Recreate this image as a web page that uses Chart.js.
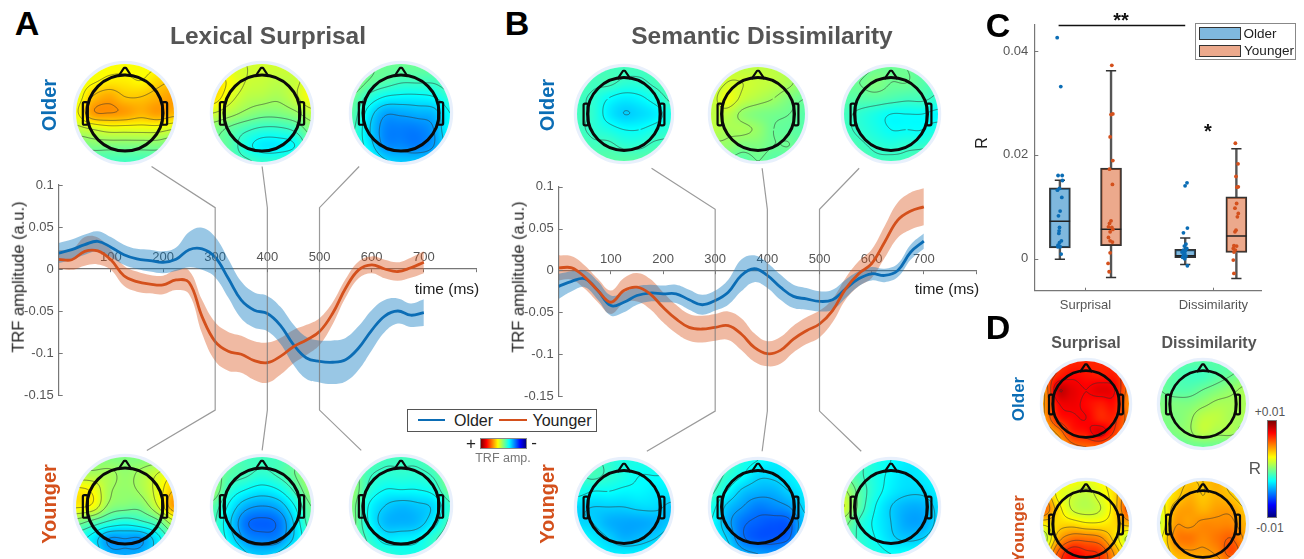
<!DOCTYPE html>
<html>
<head>
<meta charset="utf-8">
<title>TRF</title>
<script src="https://cdn.jsdelivr.net/npm/chart.js@4"></script>
<style>
    html, body { margin: 0; padding: 0; background: #fff; width: 1304px; height: 559px; overflow: hidden; }
    body { position: relative; font-family: 'Liberation Sans', Arial, sans-serif; }
    canvas { position: absolute; }
    .txt { position: absolute; white-space: nowrap; transform: translate(-50%, -50%); line-height: 1; }
    .rot { transform: translate(-50%, -50%) rotate(-90deg); }
    .caja { position: absolute; box-sizing: border-box; }
</style>
</head>
<body>
<script>
// ===================================== Datos ==================================
const tiempos = [0, 25, 50, 75, 100, 125, 150, 175, 200, 225, 250, 275, 300, 325, 350, 375, 400, 425, 450, 475, 500, 525, 550, 575, 600, 625, 650, 675, 700];

const surprisalOlder = [0.019, 0.023, 0.029, 0.033, 0.026, 0.017, 0.012, 0.010, 0.008, 0.0115, 0.023, 0.024, 0.014, -0.011, -0.037, -0.049, -0.053, -0.067, -0.090, -0.106, -0.110, -0.111, -0.108, -0.094, -0.073, -0.056, -0.050, -0.055, -0.052];
const surprisalOlderSem = [0.012, 0.012, 0.012, 0.012, 0.012, 0.012, 0.012, 0.013, 0.013, 0.014, 0.021, 0.025, 0.024, 0.023, 0.022, 0.021, 0.021, 0.022, 0.024, 0.025, 0.025, 0.026, 0.026, 0.026, 0.024, 0.019, 0.015, 0.014, 0.016];
const surprisalYounger = [0.0115, 0.011, 0.021, 0.0215, 0.011, -0.008, -0.015, -0.018, -0.019, -0.013, -0.016, -0.057, -0.0865, -0.098, -0.1015, -0.109, -0.1115, -0.104, -0.0925, -0.0845, -0.0745, -0.053, -0.023, -0.001, 0.005, 0, -0.003, 0.0015, 0.008];
const surprisalYoungerSem = [0.011, 0.012, 0.017, 0.016, 0.012, 0.012, 0.012, 0.011, 0.011, 0.012, 0.014, 0.020, 0.023, 0.023, 0.022, 0.023, 0.024, 0.022, 0.020, 0.018, 0.016, 0.013, 0.011, 0.010, 0.010, 0.011, 0.011, 0.012, 0.013];

const disimilOlder = [-0.019, -0.013, -0.010, -0.024, -0.042, -0.038, -0.030, -0.027, -0.028, -0.028, -0.035, -0.041, -0.036, -0.026, -0.006, 0.002, -0.006, -0.020, -0.031, -0.034, -0.037, -0.035, -0.022, -0.010, -0.004, -0.006, 0, 0.022, 0.035];
const disimilOlderSem = [0.015, 0.012, 0.010, 0.011, 0.012, 0.012, 0.011, 0.010, 0.010, 0.011, 0.012, 0.012, 0.012, 0.015, 0.019, 0.016, 0.015, 0.015, 0.014, 0.013, 0.012, 0.012, 0.011, 0.009, 0.008, 0.008, 0.008, 0.009, 0.009];
const disimilYounger = [0.003, 0.003, -0.008, -0.024, -0.038, -0.024, -0.020, -0.028, -0.044, -0.058, -0.068, -0.070, -0.068, -0.066, -0.076, -0.092, -0.0995, -0.0955, -0.082, -0.072, -0.064, -0.048, -0.022, -0.004, 0.008, 0.034, 0.060, 0.071, 0.076];
const disimilYoungerSem = [0.015, 0.014, 0.014, 0.014, 0.014, 0.015, 0.017, 0.018, 0.018, 0.017, 0.016, 0.016, 0.016, 0.017, 0.019, 0.017, 0.015, 0.016, 0.016, 0.016, 0.016, 0.014, 0.013, 0.015, 0.017, 0.019, 0.021, 0.022, 0.022];

const ticksTrf = [0.1, 0.05, 0, -0.05, -0.1, -0.15];

// lineas grises que unen cada mapa con su latencia
const conector300x = [178, 300, 300, 169];
const conector400x = [390, 400, 400, 390];
const conector500x = [576, 500, 500, 580];
const conectorY = [0.122, 0.073, -0.168, -0.216];

// boxplots (posicion en el eje x, cuartiles, bigotes)
const nombresBox = ['Surprisal', 'Dissimilarity'];
const ticksBoxX = [1, 2];
const ticksBoxY = [0, 0.02, 0.04];
const boxOlderX = [0.80, 1.78];
const boxOlderQ1 = [0.0021, 0.0002];
const boxOlderMed = [0.0072, 0.0006];
const boxOlderQ3 = [0.01365, 0.0018];
const boxOlderMin = [-0.0001, -0.0011];
const boxOlderMax = [0.0151, 0.0040];
const boxYoungerX = [1.20, 2.18];
const boxYoungerQ1 = [0.0025, 0.0012];
const boxYoungerMed = [0.0057, 0.0044];
const boxYoungerQ3 = [0.01745, 0.0119];
const boxYoungerMin = [-0.0036, -0.0038];
const boxYoungerMax = [0.0362, 0.0212];

const puntosOlderX = [0.779, 0.807, 0.786, 0.818, 0.820, 0.781, 0.797, 0.815, 0.802, 0.789, 0.797, 0.794, 0.792, 0.812, 0.797, 0.786, 0.802, 0.784, 0.810, 1.794, 1.779, 1.797, 1.766, 1.786, 1.773, 1.792, 1.766, 1.781, 1.755, 1.776, 1.766, 1.786, 1.760, 1.776, 1.797];
const puntosOlderY = [0.04256, 0.03314, 0.01603, 0.01603, 0.01506, 0.0132, 0.01353, 0.0118, 0.00917, 0.00827, 0.00603, 0.00538, 0.00487, 0.00346, 0.00308, 0.00263, 0.00231, 0.00231, 0.0009, 0.01462, 0.01404, 0.0059, 0.005, 0.00282, 0.00244, 0.00199, 0.00167, 0.00154, 0.00128, 0.00103, 0.00071, 0.00051, 0.00026, 0, -0.00135];
const puntosYoungerX = [1.206, 1.214, 1.200, 1.193, 1.214, 1.188, 1.211, 1.200, 1.188, 1.180, 1.206, 1.214, 1.193, 1.180, 1.193, 1.211, 1.193, 1.177, 1.185, 2.172, 2.193, 2.177, 2.195, 2.185, 2.182, 2.169, 2.195, 2.188, 2.177, 2.169, 2.161, 2.182, 2.156, 2.172, 2.161, 2.156, 2.161];
const puntosYoungerY = [0.03724, 0.02788, 0.02776, 0.02346, 0.01891, 0.01724, 0.0143, 0.00731, 0.0068, 0.00615, 0.00603, 0.00564, 0.00519, 0.0041, 0.00346, 0.00321, 0.00115, -0.0009, -0.0025, 0.02224, 0.01827, 0.01583, 0.01385, 0.01378, 0.01064, 0.00974, 0.00872, 0.00808, 0.00551, 0.00519, 0.0025, 0.00244, 0.00199, 0.00167, 0.00128, -0.00026, -0.00282];

const corchete2x = [0.79, 1.78];
const corchete2y = [0.0449, 0.0449];

// mapas: 7 filas de arriba (frente) a abajo, valor en la escala de color 0-100
const mapaSurprisalOlder1 = [[62,62,62,62,62,62,62],[60,62,64,64,63,66,68],[60,68,71,68,68,70,72],[62,72,73,72,70,72,70],[56,58,60,60,60,60,58],[48,50,50,50,50,50,48],[44,44,44,44,44,44,44]];
const mapaSurprisalOlder2 = [[58,58,58,58,58,58,58],[66,62,58,57,56,57,60],[66,60,56,55,54,57,62],[58,55,52,50,50,52,56],[50,47,44,42,42,44,50],[48,46,40,36,36,38,46],[48,46,44,42,42,44,46]];
const mapaSurprisalOlder3 = [[48,48,48,48,48,48,48],[52,48,46,44,44,44,46],[48,42,38,37,37,38,42],[46,36,29,29,30,31,38],[44,34,26,25,25,28,38],[42,36,27,26,25,28,36],[42,40,34,32,32,33,40]];
const mapaSurprisalYounger1 = [[50,50,50,50,50,50,50],[54,54,54,52,54,58,62],[64,62,54,52,54,60,68],[64,62,52,50,50,58,72],[50,46,42,40,42,46,56],[40,36,28,28,28,36,46],[42,38,30,29,30,36,44]];
const mapaSurprisalYounger2 = [[46,46,44,44,44,46,46],[50,46,44,42,44,48,54],[52,42,38,36,38,44,52],[46,37,30,28,30,38,48],[44,34,24,22,24,34,46],[44,36,27,25,26,34,42],[42,42,34,32,34,40,44]];
const mapaSurprisalYounger3 = [[46,46,44,44,44,46,46],[50,44,42,42,42,44,50],[52,42,38,38,38,40,48],[50,38,33,31,32,34,42],[50,38,31,30,31,36,44],[48,42,36,36,37,42,46],[46,44,42,40,40,42,46]];
const mapaDisimilOlder1 = [[44,44,44,44,44,44,44],[46,44,44,42,42,44,46],[44,42,38,36,37,40,44],[44,42,36,33,34,36,40],[44,42,40,38,38,40,42],[46,44,44,42,42,44,44],[44,46,46,46,46,46,46]];
const mapaDisimilOlder2 = [[52,56,56,56,56,54,50],[54,58,58,57,56,54,50],[56,61,57,55,53,50,48],[56,56,52,50,49,48,46],[56,54,54,52,48,47,46],[52,52,50,50,48,48,46],[48,48,46,48,46,46,46]];
const mapaDisimilOlder3 = [[46,46,48,48,48,46,44],[48,48,50,48,48,46,44],[46,46,46,45,44,44,42],[44,42,40,38,38,38,37],[44,42,40,38,38,38,40],[46,44,42,41,42,42,44],[46,46,44,44,44,46,46]];
const mapaDisimilYounger1 = [[44,44,42,40,40,40,40],[42,44,42,40,38,38,38],[40,38,38,37,37,36,36],[34,33,33,33,34,34,32],[34,33,30,29,29,30,32],[38,36,33,30,31,33,36],[38,38,36,36,36,38,38]];
const mapaDisimilYounger2 = [[44,44,40,38,36,36,36],[46,42,38,34,34,36,38],[44,38,32,30,30,33,36],[40,32,28,25,26,28,34],[38,30,24,22,21,22,32],[38,33,24,21,21,23,34],[38,36,30,28,27,30,36]];
const mapaDisimilYounger3 = [[46,44,40,38,36,36,38],[48,44,40,37,35,36,38],[54,46,40,36,34,34,36],[58,46,38,33,30,30,34],[50,42,37,33,29,29,34],[46,42,38,34,32,33,36],[44,42,40,38,38,38,40]];
const mapaROlderSurprisal = [[82,82,84,84,84,84,82],[78,84,87,86,85,85,80],[72,92,90,88,90,88,76],[72,87,89,87,85,86,74],[72,84,87,88,84,84,76],[68,74,84,86,90,82,74],[64,68,76,78,78,74,70]];
const mapaROlderDisimil = [[46,46,46,46,46,46,48],[48,46,44,44,46,48,50],[48,46,46,48,50,52,54],[50,50,50,52,54,54,54],[50,50,52,56,56,54,54],[48,50,52,56,54,54,50],[46,46,48,48,48,46,46]];
const mapaRYoungerSurprisal = [[68,62,62,60,62,66,72],[74,62,58,56,60,66,78],[78,66,58,56,58,66,80],[64,66,66,64,64,66,70],[54,70,76,76,74,66,56],[62,78,86,84,82,72,62],[70,82,86,86,82,74,68]];
const mapaRYoungerDisimil = [[62,66,68,68,70,66,62],[62,66,70,68,70,68,64],[60,70,72,70,72,72,68],[58,72,72,74,74,74,70],[62,74,76,74,76,78,72],[62,70,72,72,74,80,74],[62,66,66,68,70,72,66]];

// ===================================== Colores ==================================
const AZUL = '#0B6DB5';
const NARANJA = '#D4501C';
const AZUL_BANDA = 'rgba(0, 114, 189, 0.4)';
const NARANJA_BANDA = 'rgba(217, 83, 25, 0.4)';
const GRIS_TICK = '#555';
const JET = 'linear-gradient(to bottom, #7f0000, #ff0000 12.5%, #ffff00 37.5%, #00ffff 62.5%, #0000ff 87.5%, #00007f)';
const JET_H = 'linear-gradient(to right, #7f0000, #ff0000 12.5%, #ffff00 37.5%, #00ffff 62.5%, #0000ff 87.5%, #00007f)';

Chart.defaults.font.family = "'Liberation Sans', Arial, sans-serif";
Chart.defaults.animation = false;

// ===================================== Ayudas de pagina ==================================
function texto(str, x, y, size, color, extra) {
    const d = document.createElement('div');
    d.className = 'txt' + (extra && extra.rot ? ' rot' : '');
    d.textContent = str;
    d.style.left = x + 'px';
    d.style.top = y + 'px';
    d.style.fontSize = size + 'px';
    d.style.color = color;
    if (extra && extra.bold) d.style.fontWeight = 'bold';
    document.body.appendChild(d);
    return d;
}

function caja(x, y, w, h, css) {
    const d = document.createElement('div');
    d.className = 'caja';
    d.style.left = x + 'px';
    d.style.top = y + 'px';
    d.style.width = w + 'px';
    d.style.height = h + 'px';
    d.style.cssText += css;
    document.body.appendChild(d);
}

function lienzo(x, y, w, h) {
    const c = document.createElement('canvas');
    c.width = w;
    c.height = h;
    c.style.left = x + 'px';
    c.style.top = y + 'px';
    c.style.width = w + 'px';
    c.style.height = h + 'px';
    document.body.appendChild(c);
    return c;
}

// ===================================== Marcas de eje hacia adentro ==================================
const marcasInternas = {
    id: 'marcasInternas',
    afterDatasetsDraw(chart) {
        const ctx = chart.ctx;
        ctx.save();
        ctx.strokeStyle = '#777';
        ctx.lineWidth = 1;
        ctx.beginPath();
        chart.scales.y.ticks.forEach(t => {
            const py = Math.round(chart.scales.y.getPixelForValue(t.value)) + 0.5;
            ctx.moveTo(chart.chartArea.left, py);
            ctx.lineTo(chart.chartArea.left + 4, py);
        });
        if (chart.config.options.marcasX) {
            chart.scales.x.ticks.forEach(t => {
                const px = Math.round(chart.scales.x.getPixelForValue(t.value)) + 0.5;
                ctx.moveTo(px, chart.chartArea.bottom);
                ctx.lineTo(px, chart.chartArea.bottom - 3);
            });
        }
        ctx.stroke();
        ctx.restore();
    }
};

// ===================================== Graficos TRF ==================================
function xy(xs, ys) {
    return xs.map((x, i) => ({ x: x, y: ys[i] }));
}

function datasetConector(xs) {
    return {
        type: 'line', data: xy(xs, conectorY), borderColor: 'rgba(120, 120, 120, 0.75)', borderWidth: 1.2,
        pointRadius: 0, tension: 0, clip: false, fill: false, order: 0
    };
}

function datasetBanda(media, sem, color) {
    return [
        { data: xy(tiempos, media.map((v, i) => v + sem[i])), borderWidth: 0, pointRadius: 0, fill: false, tension: 0.4, order: 5 },
        { data: xy(tiempos, media.map((v, i) => v - sem[i])), borderWidth: 0, pointRadius: 0, fill: '-1', backgroundColor: color, tension: 0.4, order: 5 }
    ];
}

function graficoTrf(x, y, padTop, padBottom, older, olderSem, younger, youngerSem) {
    return new Chart(lienzo(x, y, 500, 310), {
        type: 'line',
        data: {
            datasets: [
                ...datasetBanda(older, olderSem, AZUL_BANDA),
                ...datasetBanda(younger, youngerSem, NARANJA_BANDA),
                { label: 'Older', data: xy(tiempos, older), borderColor: AZUL, borderWidth: 2.8, pointRadius: 0, tension: 0.4, fill: false, order: 2 },
                { label: 'Younger', data: xy(tiempos, younger), borderColor: NARANJA, borderWidth: 2.8, pointRadius: 0, tension: 0.4, fill: false, order: 1 },
                datasetConector(conector300x),
                datasetConector(conector400x),
                datasetConector(conector500x)
            ]
        },
        options: {
            responsive: false,
            maintainAspectRatio: false,
            layout: { padding: { top: padTop, bottom: padBottom, right: 24, left: 0 } },
            plugins: { legend: { display: false }, tooltip: { enabled: false } },
            scales: {
                x: {
                    type: 'linear', min: 0, max: 800,
                    position: { y: 0 },
                    border: { color: '#777', width: 1.2 },
                    grid: { drawOnChartArea: false, drawTicks: true, tickLength: 3, color: '#777' },
                    ticks: {
                        stepSize: 100, maxRotation: 0, autoSkip: false, padding: -22,
                        color: GRIS_TICK, font: { size: 13 },
                        callback: v => (v === 0 || v === 800) ? '' : String(v)
                    }
                },
                y: {
                    type: 'linear', min: -0.15, max: 0.1,
                    afterFit: s => { s.width = 58.7; },
                    afterBuildTicks: s => { s.ticks = ticksTrf.map(v => ({ value: v })); },
                    border: { color: '#777', width: 1.2 },
                    grid: { drawOnChartArea: false, drawTicks: false },
                    ticks: { padding: 5, color: GRIS_TICK, font: { size: 13 }, callback: v => String(+(+v).toFixed(2)) }
                }
            }
        },
        plugins: [marcasInternas]
    });
}

graficoTrf(0, 150, 35, 65, surprisalOlder, surprisalOlderSem, surprisalYounger, surprisalYoungerSem);
graficoTrf(500, 150, 36.7, 64, disimilOlder, disimilOlderSem, disimilYounger, disimilYoungerSem);

// ===================================== Boxplots ==================================
function segmentos(xs, yA, yB, mitad) {
    const out = [];
    xs.forEach((x, i) => {
        out.push({ x: x - mitad, y: yA[i] }, { x: x + mitad, y: yB[i] }, { x: null, y: null });
    });
    return out;
}

function datasetLinea(data, color, ancho, orden) {
    return { type: 'scatter', data: data, showLine: true, spanGaps: false, borderColor: color, borderWidth: ancho, pointRadius: 0, order: orden };
}

function datasetPuntos(xs, ys, color) {
    return { type: 'scatter', data: xy(xs, ys), backgroundColor: color, borderWidth: 0, pointRadius: 1.9, order: 1 };
}

new Chart(lienzo(970, 0, 334, 320), {
    type: 'bar',
    data: {
        datasets: [
            { label: 'Older', data: boxOlderX.map((x, i) => ({ x: x, y: [boxOlderQ1[i], boxOlderQ3[i]] })), backgroundColor: 'rgba(0, 114, 189, 0.5)', borderColor: '#333', borderWidth: 1.5, borderSkipped: false, barThickness: 21, grouped: false, order: 4 },
            { label: 'Younger', data: boxYoungerX.map((x, i) => ({ x: x, y: [boxYoungerQ1[i], boxYoungerQ3[i]] })), backgroundColor: 'rgba(217, 83, 25, 0.5)', borderColor: '#333', borderWidth: 1.5, borderSkipped: false, barThickness: 21, grouped: false, order: 4 },
            datasetLinea(segmentos(boxOlderX, boxOlderMin, boxOlderQ1, 0), '#555', 2.4, 5),
            datasetLinea(segmentos(boxOlderX, boxOlderQ3, boxOlderMax, 0), '#555', 2.4, 5),
            datasetLinea(segmentos(boxYoungerX, boxYoungerMin, boxYoungerQ1, 0), '#555', 2.4, 5),
            datasetLinea(segmentos(boxYoungerX, boxYoungerQ3, boxYoungerMax, 0), '#555', 2.4, 5),
            datasetLinea(segmentos(boxOlderX, boxOlderMin, boxOlderMin, 0.04), '#333', 1.5, 3),
            datasetLinea(segmentos(boxOlderX, boxOlderMax, boxOlderMax, 0.04), '#333', 1.5, 3),
            datasetLinea(segmentos(boxYoungerX, boxYoungerMin, boxYoungerMin, 0.04), '#333', 1.5, 3),
            datasetLinea(segmentos(boxYoungerX, boxYoungerMax, boxYoungerMax, 0.04), '#333', 1.5, 3),
            datasetLinea(segmentos(boxOlderX, boxOlderMed, boxOlderMed, 0.08), '#222', 1.5, 2),
            datasetLinea(segmentos(boxYoungerX, boxYoungerMed, boxYoungerMed, 0.08), '#222', 1.5, 2),
            datasetPuntos(puntosOlderX, puntosOlderY, '#0B6DB5'),
            datasetPuntos(puntosYoungerX, puntosYoungerY, '#D4501C'),
            { type: 'scatter', data: xy(corchete2x, corchete2y), showLine: true, borderColor: '#111', borderWidth: 1.3, pointRadius: 0, clip: false, order: 0 }
        ]
    },
    options: {
        responsive: false,
        maintainAspectRatio: false,
        marcasX: true,
        layout: { padding: { top: 25, right: 42.3, left: 0, bottom: 0 } },
        plugins: { legend: { display: false }, tooltip: { enabled: false } },
        scales: {
            x: {
                type: 'linear', min: 0.60, max: 2.378, offset: false,
                afterFit: s => { s.height = 29.3; },
                afterBuildTicks: s => { s.ticks = ticksBoxX.map(v => ({ value: v })); },
                border: { color: '#777', width: 1.2 },
                grid: { drawOnChartArea: false, drawTicks: false, offset: false },
                ticks: { padding: 7, color: GRIS_TICK, font: { size: 13 }, autoSkip: false, maxRotation: 0, callback: v => nombresBox[ticksBoxX.indexOf(v)] }
            },
            y: {
                type: 'linear', min: -0.00615, max: 0.045,
                afterFit: s => { s.width = 64.3; },
                afterBuildTicks: s => { s.ticks = ticksBoxY.map(v => ({ value: v })); },
                border: { color: '#777', width: 1.2 },
                grid: { drawOnChartArea: false, drawTicks: false },
                ticks: { padding: 6, color: GRIS_TICK, font: { size: 13 }, callback: v => String(v) }
            }
        }
    },
    plugins: [marcasInternas]
});

// ===================================== Mapas de cuero cabelludo ==================================
function colorJet(v) {
    const tramo = (a) => Math.max(0, Math.min(1, a));
    const r = tramo(Math.min(4 * v - 1.5, -4 * v + 4.5));
    const g = tramo(Math.min(4 * v - 0.5, -4 * v + 3.5));
    const b = tramo(Math.min(4 * v + 0.5, -4 * v + 2.5));
    return [r * 255, g * 255, b * 255];
}

function catmull(a, b, c, d, t) {
    return 0.5 * (2 * b + (c - a) * t + (2 * a - 5 * b + 4 * c - d) * t * t + (3 * b - a - 3 * c + d) * t * t * t);
}

function campoFino(valores, n, N) {
    const at = (i, j) => valores[Math.max(0, Math.min(n - 1, i)) * n + Math.max(0, Math.min(n - 1, j))];
    const out = new Float32Array(N * N);
    for (let py = 0; py < N; py++) {
        const fy = py / (N - 1) * (n - 1), iy = Math.min(n - 2, Math.floor(fy)), ty = fy - iy;
        for (let px = 0; px < N; px++) {
            const fx = px / (N - 1) * (n - 1), ix = Math.min(n - 2, Math.floor(fx)), tx = fx - ix;
            const col = [-1, 0, 1, 2].map(k => catmull(at(iy + k, ix - 1), at(iy + k, ix), at(iy + k, ix + 1), at(iy + k, ix + 2), tx));
            out[py * N + px] = catmull(col[0], col[1], col[2], col[3], ty);
        }
    }
    return out;
}

function contornos(ctx, campo, N, x0, y0, paso) {
    ctx.beginPath();
    for (let nivel = 23; nivel < 96; nivel += 5) {
        for (let j = 0; j < N - 1; j++) {
            for (let i = 0; i < N - 1; i++) {
                const a = campo[j * N + i], b = campo[j * N + i + 1], c = campo[(j + 1) * N + i + 1], d = campo[(j + 1) * N + i];
                const cruces = [];
                if ((a - nivel) * (b - nivel) < 0) cruces.push([i + (nivel - a) / (b - a), j]);
                if ((b - nivel) * (c - nivel) < 0) cruces.push([i + 1, j + (nivel - b) / (c - b)]);
                if ((d - nivel) * (c - nivel) < 0) cruces.push([i + (nivel - d) / (c - d), j + 1]);
                if ((a - nivel) * (d - nivel) < 0) cruces.push([i, j + (nivel - a) / (d - a)]);
                if (cruces.length >= 2) {
                    ctx.moveTo(x0 + cruces[0][0] * paso, y0 + cruces[0][1] * paso);
                    ctx.lineTo(x0 + cruces[1][0] * paso, y0 + cruces[1][1] * paso);
                }
            }
        }
    }
    ctx.stroke();
}

const pluginMapa = {
    id: 'pluginMapa',
    beforeDatasetsDraw(chart) {
        const ctx = chart.ctx;
        const sx = chart.scales.x, sy = chart.scales.y;
        const x0 = sx.getPixelForValue(-1), x1 = sx.getPixelForValue(1);
        const y0 = sy.getPixelForValue(1);
        const cx = sx.getPixelForValue(0), cy = sy.getPixelForValue(0);
        const radio = (x1 - x0) / 2;
        const u = radio; // unidades del mapa -> pixeles

        const valores = chart.data.datasets[0].data.map(p => p.v);
        const N = Math.round(x1 - x0);
        const campo = campoFino(valores, 7, N);

        const off = document.createElement('canvas');
        off.width = N;
        off.height = N;
        const octx = off.getContext('2d');
        const img = octx.createImageData(N, N);
        for (let k = 0; k < N * N; k++) {
            const [r, g, b] = colorJet(campo[k] / 100);
            img.data[k * 4] = r;
            img.data[k * 4 + 1] = g;
            img.data[k * 4 + 2] = b;
            img.data[k * 4 + 3] = 255;
        }
        octx.putImageData(img, 0, 0);

        // aro claro
        ctx.save();
        ctx.beginPath();
        ctx.arc(cx, cy, radio + 1.5, 0, Math.PI * 2);
        ctx.strokeStyle = '#E8F0FC';
        ctx.lineWidth = 3.5;
        ctx.stroke();

        // campo y contornos
        ctx.beginPath();
        ctx.arc(cx, cy, radio, 0, Math.PI * 2);
        ctx.clip();
        ctx.drawImage(off, x0, y0, N, N);
        ctx.strokeStyle = 'rgba(50, 50, 50, 0.7)';
        ctx.lineWidth = 0.8;
        contornos(ctx, campo, N, x0, y0, (x1 - x0) / (N - 1));
        ctx.restore();

        // cabeza, nariz y orejas
        ctx.save();
        ctx.strokeStyle = '#0a0a0a';
        ctx.lineJoin = 'round';
        ctx.lineWidth = radio > 46 ? 3 : 2.7;
        ctx.beginPath();
        ctx.arc(cx, cy, 0.776 * u, 0, Math.PI * 2);
        ctx.stroke();
        ctx.lineWidth = 2.2;
        ctx.beginPath();
        ctx.moveTo(cx - 0.14 * u, cy - 0.74 * u);
        ctx.lineTo(cx - 0.02 * u, cy - 0.92 * u);
        ctx.lineTo(cx + 0.02 * u, cy - 0.92 * u);
        ctx.lineTo(cx + 0.14 * u, cy - 0.74 * u);
        ctx.stroke();
        [-1, 1].forEach(lado => {
            ctx.beginPath();
            ctx.roundRect(cx + (lado < 0 ? -0.86 : 0.76) * u, cy - 0.22 * u, 0.1 * u, 0.46 * u, 1.5);
            ctx.stroke();
        });
        ctx.restore();
    }
};

function cabeza(cx, cy, radio, filas) {
    const margen = 5;
    const lado = 2 * (radio + margen);
    const celdas = [];
    filas.forEach((fila, i) => fila.forEach((v, j) => {
        celdas.push({ x: -1 + 2 * j / 6, y: 1 - 2 * i / 6, v: v });
    }));
    new Chart(lienzo(cx - radio - margen, cy - radio - margen, lado, lado), {
        type: 'scatter',
        data: { datasets: [{ data: celdas, pointRadius: 0 }] },
        options: {
            responsive: false,
            maintainAspectRatio: false,
            layout: { padding: margen },
            plugins: { legend: { display: false }, tooltip: { enabled: false } },
            scales: {
                x: { type: 'linear', min: -1, max: 1, display: false },
                y: { type: 'linear', min: -1, max: 1, display: false }
            }
        },
        plugins: [pluginMapa]
    });
}

cabeza(125, 113, 49, mapaSurprisalOlder1);
cabeza(262, 113, 49, mapaSurprisalOlder2);
cabeza(401, 113, 49, mapaSurprisalOlder3);
cabeza(125, 506, 49, mapaSurprisalYounger1);
cabeza(262, 506, 49, mapaSurprisalYounger2);
cabeza(401, 506, 49, mapaSurprisalYounger3);
cabeza(624, 114, 47, mapaDisimilOlder1);
cabeza(758, 114, 47, mapaDisimilOlder2);
cabeza(891, 114, 47, mapaDisimilOlder3);
cabeza(624, 507, 47, mapaDisimilYounger1);
cabeza(758, 507, 47, mapaDisimilYounger2);
cabeza(891, 507, 47, mapaDisimilYounger3);
cabeza(1086, 404, 43, mapaROlderSurprisal);
cabeza(1203, 404, 43, mapaROlderDisimil);
cabeza(1086, 524, 43, mapaRYoungerSurprisal);
cabeza(1203, 524, 43, mapaRYoungerDisimil);

// ===================================== Textos ==================================
texto('A', 27, 23, 34, '#000', { bold: true });
texto('B', 517, 23, 34, '#000', { bold: true });
texto('C', 998, 25, 34, '#000', { bold: true });
texto('D', 998, 327, 34, '#000', { bold: true });

texto('Lexical Surprisal', 268, 36, 24.5, '#555', { bold: true });
texto('Semantic Dissimilarity', 762, 36, 24.5, '#555', { bold: true });

texto('Older', 49, 105, 20, '#0B6DB5', { bold: true, rot: true });
texto('Younger', 49, 504, 20, '#D4501C', { bold: true, rot: true });
texto('Older', 547, 105, 20, '#0B6DB5', { bold: true, rot: true });
texto('Younger', 547, 504, 20, '#D4501C', { bold: true, rot: true });

texto('TRF amplitude (a.u.)', 18, 277, 16.5, '#222', { rot: true });
texto('TRF amplitude (a.u.)', 518, 277, 16.5, '#222', { rot: true });
texto('time (ms)', 447, 289, 15.5, '#222');
texto('time (ms)', 947, 289, 15.5, '#222');

texto('R', 982, 143, 16, '#222', { rot: true });
texto('**', 1121, 20, 20, '#111', { bold: true });
texto('*', 1208, 131, 20, '#111', { bold: true });

texto('Surprisal', 1086, 343, 16, '#555', { bold: true });
texto('Dissimilarity', 1209, 343, 16, '#555', { bold: true });
texto('Older', 1018, 399, 17, '#0B6DB5', { bold: true, rot: true });
texto('Younger', 1018, 529, 17, '#D4501C', { bold: true, rot: true });

// ===================================== Leyendas ==================================
caja(406.5, 408.5, 190, 23.5, 'border:1px solid #555;background:#fff;');
caja(418, 419, 27, 2.4, 'background:' + AZUL + ';');
texto('Older', 473.5, 420.5, 16, '#222');
caja(499, 419, 28, 2.4, 'background:' + NARANJA + ';');
texto('Younger', 562, 420.5, 16, '#222');

caja(480, 438, 47, 10.5, 'background:' + JET_H + ';border:1px solid #888;');
texto('+', 471, 442.5, 17, '#222');
texto('-', 534, 442, 17, '#222');
texto('TRF amp.', 503, 458, 12.5, '#777');

caja(1195, 23, 101, 37, 'border:1.5px solid #888;background:#fff;');
caja(1199, 27, 42, 12.5, 'background:rgba(0,114,189,0.5);border:1px solid #333;');
texto('Older', 1260, 34, 13.5, '#222');
caja(1199, 44.5, 42, 12, 'background:rgba(217,83,25,0.5);border:1px solid #333;');
texto('Younger', 1269, 51, 13.5, '#222');

caja(1266.7, 420, 10.6, 98, 'background:' + JET + ';border:1px solid #777;');
texto('+0.01', 1270, 412, 12, '#555');
texto('-0.01', 1270, 528, 12, '#555');
texto('R', 1255, 468, 17, '#555');
</script>
</body>
</html>
